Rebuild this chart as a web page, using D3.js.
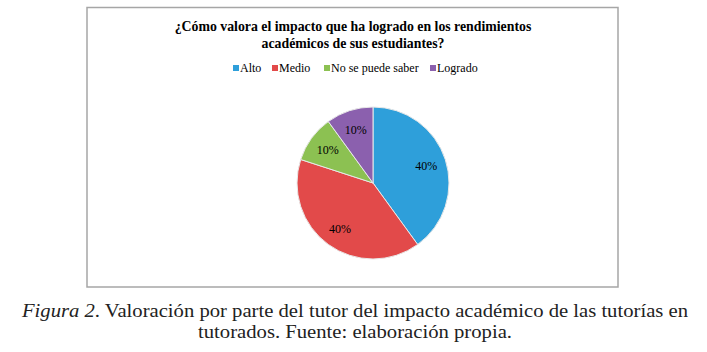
<!DOCTYPE html>
<html><head><meta charset="utf-8">
<script src="https://cdn.jsdelivr.net/npm/d3@7"></script>
<style>
body{margin:0;background:#fff}svg{display:block}
svg text{font-family:"Liberation Serif","Times New Roman",serif}
</style>
</head><body>
<svg id="c" width="707" height="352"></svg>
<script>
const categories = ["Alto", "Medio", "No se puede saber", "Logrado"];
const values = [40, 40, 10, 10];
const colors = ["#2E9FDA", "#E24A4A", "#8CC152", "#8B60AE"];
const titleLines = ["¿Cómo valora el impacto que ha logrado en los rendimientos", "académicos de sus estudiantes?"];
const captionItalic = "Figura 2";
const captionLine1 = ". Valoración por parte del tutor del impacto académico de las tutorías en";
const captionLine2 = "tutorados. Fuente: elaboración propia.";

const svg = d3.select("#c");

// frame
svg.append("rect").attr("x", 87).attr("y", 7.5).attr("width", 531).attr("height", 279.5)
  .attr("fill", "#fff").attr("stroke", "#a6a6a6").attr("stroke-width", 1.5);

// title
svg.append("g").selectAll("text").data(titleLines).join("text")
  .attr("x", 353).attr("y", (d, i) => 31 + i * 17)
  .attr("text-anchor", "middle")
  .attr("font-weight", "bold").attr("font-size", 13.8).attr("fill", "#000")
  .text(d => d);

// legend
const legendX = [233, 272, 324, 430];
const lg = svg.append("g").selectAll("g").data(categories).join("g")
  .attr("transform", (d, i) => `translate(${legendX[i]},72)`);
lg.append("rect").attr("x", 0).attr("y", -7).attr("width", 6).attr("height", 6)
  .attr("fill", (d, i) => colors[i]);
lg.append("text").attr("x", 7).attr("y", 0)
  .attr("font-size", 12).attr("fill", "#000").text(d => d);

// pie
const cx = 373, cy = 183, r = 76;
const pie = d3.pie().sort(null).value(d => d)(values);
const arc = d3.arc().innerRadius(0).outerRadius(r);
const labelArc = d3.arc().innerRadius(56).outerRadius(56);
const g = svg.append("g").attr("transform", `translate(${cx},${cy})`);
g.selectAll("path").data(pie).join("path")
  .attr("d", arc).attr("fill", (d, i) => colors[i])
  .attr("stroke", "#e8e8e8").attr("stroke-width", 1);
g.selectAll("text").data(pie).join("text")
  .attr("transform", d => `translate(${labelArc.centroid(d)})`)
  .attr("dy", "0.35em").attr("text-anchor", "middle")
  .attr("font-size", 12).attr("fill", "#000")
  .text(d => d.data + "%");

// caption
const cap = svg.append("text").attr("x", 355).attr("y", 317).attr("text-anchor", "middle")
  .attr("textLength", 666).attr("lengthAdjust", "spacingAndGlyphs")
  .attr("font-size", 19).attr("fill", "#222");
cap.append("tspan").attr("font-style", "italic").text(captionItalic);
cap.append("tspan").text(captionLine1);
svg.append("text").attr("x", 355).attr("y", 338).attr("text-anchor", "middle")
  .attr("textLength", 314).attr("lengthAdjust", "spacingAndGlyphs")
  .attr("font-size", 19).attr("fill", "#222").text(captionLine2);
</script>
</body></html>
